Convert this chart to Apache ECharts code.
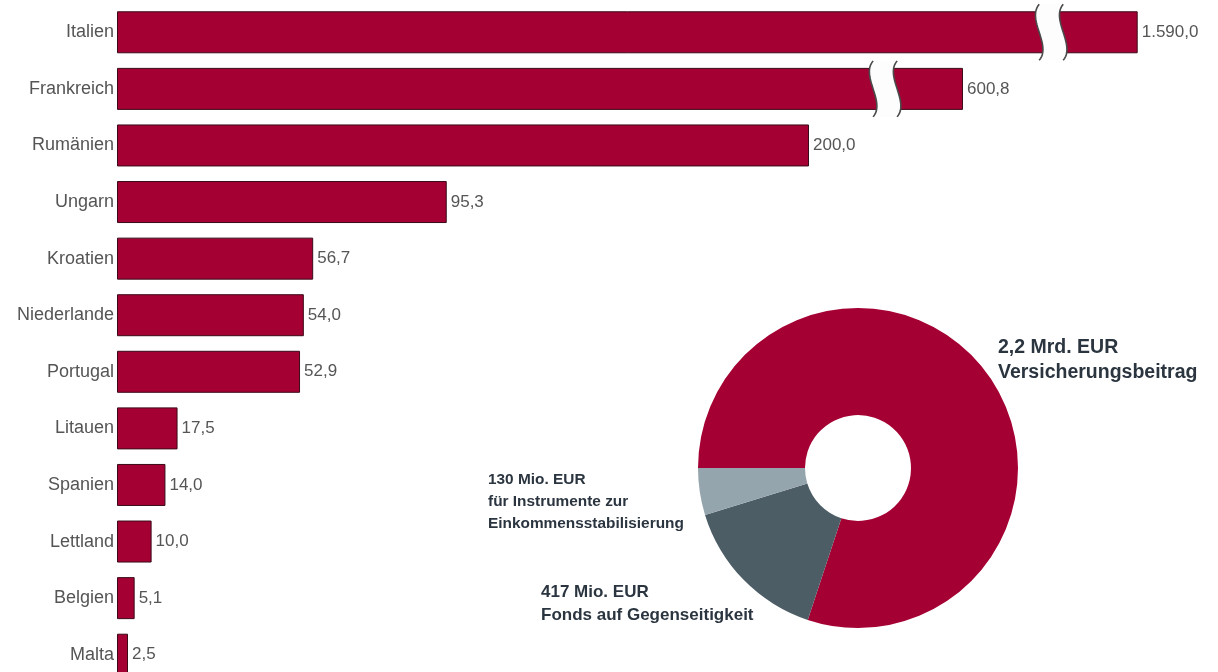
<!DOCTYPE html>
<html><head><meta charset="utf-8">
<script src="https://cdn.jsdelivr.net/npm/echarts@6/dist/echarts.min.js"></script>
<style>html,body{margin:0;padding:0;background:#fff}#c{width:1218px;height:672px}</style>
</head><body><div id="c"></div>
<script>
const countries = ['Italien','Frankreich','Rumänien','Ungarn','Kroatien','Niederlande','Portugal','Litauen','Spanien','Lettland','Belgien','Malta'];
const values = [1590, 600.8, 200, 95.3, 56.7, 54, 52.9, 17.5, 14, 10, 5.1, 2.5];
// broken bars: drawn length (axis units) and position of the break mark
const brokenLength = {'Italien': 295, 'Frankreich': 244.5};
const breakAt = {'Italien': 270, 'Frankreich': 222};

const pieNames = ['Versicherungsbeitrag', 'Fonds auf Gegenseitigkeit', 'Instrumente zur Einkommensstabilisierung'];
const pieValues = [2200, 417, 130];
const pieLabels = [
  {title: '2,2 Mrd. EUR', lines: ['Versicherungsbeitrag']},
  {title: '417 Mio. EUR', lines: ['Fonds auf Gegenseitigkeit']},
  {title: '130 Mio. EUR', lines: ['für Instrumente zur', 'Einkommensstabilisierung']}
];

const RED = '#a50034';
const FONT = '"Liberation Sans", Arial, sans-serif';

function fmt(v) {
  const parts = v.toFixed(1).split('.');
  const intPart = parts[0].replace(/\B(?=(\d{3})+(?!\d))/g, '.');
  return intPart + ',' + parts[1];
}

const barData = countries.map((c, i) => ({
  value: brokenLength[c] !== undefined ? brokenLength[c] : values[i],
  real: values[i]
}));
const breakData = Object.keys(breakAt).map(c => [breakAt[c], c]);

// S-shaped break curve sampled as points (offset dx from the break centre)
function sCurve(dx, cx, cy) {
  const pts = [];
  const p0 = [dx, -28], c1 = [dx - 13, -13], c2 = [dx + 13, 13], p3 = [dx, 28];
  for (let k = 0; k <= 24; k++) {
    const t = k / 24, u = 1 - t;
    pts.push([
      cx + u*u*u*p0[0] + 3*u*u*t*c1[0] + 3*u*t*t*c2[0] + t*t*t*p3[0],
      cy + u*u*u*p0[1] + 3*u*u*t*c1[1] + 3*u*t*t*c2[1] + t*t*t*p3[1]
    ]);
  }
  return pts;
}

const graphics = [];
const labelPos = [
  {x: 998, y: 335, size: 19.5, lh: 25},
  {x: 541, y: 581, size: 17, lh: 23},
  {x: 488, y: 469, size: 15.4, lh: 22}
];
pieLabels.forEach((l, i) => {
  const lp = labelPos[i];
  graphics.push({
    type: 'text', x: lp.x, y: lp.y, z: 100,
    style: {
      text: [l.title].concat(l.lines).join('\n'),
      fill: '#2b3540', font: 'bold ' + lp.size + 'px ' + FONT,
      lineHeight: lp.lh
    }
  });
});

const chart = echarts.init(document.getElementById('c'));
chart.setOption({
  animation: false,
  grid: {left: 117, top: 4, width: 1038, height: 679, outerBoundsMode: 'none', containLabel: false},
  xAxis: {type: 'value', min: 0, max: 300, show: false},
  yAxis: {
    type: 'category', data: countries, inverse: true,
    axisLine: {show: false}, axisTick: {show: false},
    axisLabel: {margin: 3, color: '#555', fontSize: 18, fontFamily: FONT}
  },
  graphic: {elements: graphics},
  series: [{
    type: 'bar',
    data: barData,
    barWidth: 42,
    barMinHeight: 11,
    itemStyle: {color: RED, borderColor: '#3a0a18', borderWidth: 1},
    label: {
      show: true, position: 'right', distance: 4,
      color: '#555', fontSize: 17, fontFamily: FONT,
      formatter: p => fmt(p.data.real)
    }
  }, {
    type: 'custom',
    z: 10,
    data: breakData,
    encode: {x: 0, y: 1},
    renderItem: function (params, api) {
      const p = api.coord([api.value(0), api.value(1)]);
      const gap = sCurve(-12, p[0], p[1]).concat(sCurve(12, p[0], p[1]).reverse());
      return {
        type: 'group',
        children: [
          {type: 'rect', z2: 0, shape: {x: p[0] - 4, y: p[1] - 22, width: 8, height: 44}, style: {fill: '#fefefe'}},
          {type: 'polygon', z2: 1, shape: {points: gap}, style: {fill: '#fdfdfd', stroke: null}},
          {type: 'polyline', z2: 2, shape: {points: sCurve(-12, p[0], p[1])}, style: {fill: 'none', stroke: '#4a4a4a', lineWidth: 1.6}},
          {type: 'polyline', z2: 2, shape: {points: sCurve(12, p[0], p[1])}, style: {fill: 'none', stroke: '#4a4a4a', lineWidth: 1.6}}
        ]
      };
    }
  }, {
    type: 'pie',
    center: [858, 468],
    radius: [53, 160],
    startAngle: 180,
    clockwise: true,
    label: {show: false},
    labelLine: {show: false},
    itemStyle: {borderWidth: 0},
    data: pieNames.map((n, i) => ({name: n, value: pieValues[i]})),
    color: [RED, '#4d5d66', '#95a5ad']
  }]
});
</script></body></html>
